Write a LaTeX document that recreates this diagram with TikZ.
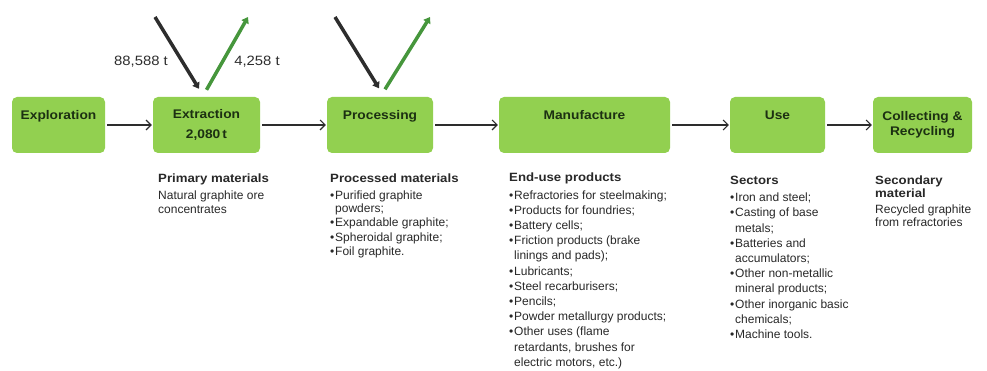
\documentclass[tikz,border=0pt]{standalone}
\usepackage{fontspec}
\setmainfont{Liberation Sans}
\newfontfamily\stagefont{Liberation Sans}[FakeStretch=1.1]
\usetikzlibrary{arrows.meta}

\definecolor{stagefill}{RGB}{146,208,80}
\definecolor{stagetext}{RGB}{28,48,18}
\definecolor{flowgreen}{RGB}{70,150,60}
\definecolor{flowdark}{RGB}{45,45,45}
\definecolor{bodytext}{RGB}{40,40,40}

\newcommand{\bul}{\makebox[5pt][l]{\textbullet}}
\newcommand{\cont}{\hspace*{5pt}}
\newcommand{\headfont}{\stagefont\fontsize{12}{15.2}\selectfont\bfseries}

\begin{document}
\begin{tikzpicture}[x=1pt,y=-1pt]
    \useasboundingbox (0,0) rectangle (987,371);

    % Stages of the chain
    \begin{scope}[every node/.style={rectangle,rounded corners=5pt,fill=stagefill,
                  text=stagetext,font=\stagefont\fontsize{12.5}{20}\selectfont\bfseries,
                  align=center,minimum height=56pt,inner sep=0pt}]
        \node[minimum width=93pt]  (explo) at (58.5,125)  {Exploration\\\mbox{}};
        \node[minimum width=107pt] (extr)  at (206.5,125) {Extraction\\2,080\,t};
        \node[minimum width=106pt] (proc)  at (380,125)   {Processing\\\mbox{}};
        \node[minimum width=171pt] (manu)  at (584.5,125) {Manufacture\\\mbox{}};
        \node[minimum width=95pt]  (use)   at (777.5,125) {Use\\\mbox{}};
        \node[minimum width=99pt]  (recyc) at (922.5,125) {Collecting \&\\[-5pt]Recycling};
    \end{scope}

    % Flow between the stages
    \begin{scope}[>={Straight Barb[length=5pt,width=10pt]},
                  every edge/.style={draw=flowdark,line width=1.1pt,shorten <=2pt,shorten >=1pt}]
        \path [->] (explo) edge (extr);
        \path [->] (extr)  edge (proc);
        \path [->] (proc)  edge (manu);
        \path [->] (manu)  edge (use);
        \path [->] (use)   edge (recyc);
    \end{scope}

    % Imports and exports
    \coordinate (exin)  at (155,17);
    \coordinate (exout) at (248,17);
    \coordinate (prin)  at (335,17);
    \coordinate (prout) at (430,17);
    \begin{scope}[>={Triangle[length=6pt,width=8pt]},
                  every edge/.style={line width=3.5pt}]
        \path [->] (exin) edge [draw=flowdark] ([xshift=-7.5pt,yshift=8pt]extr.north);
        \path [->] ([yshift=7pt]extr.north) edge [draw=flowgreen] (exout);
        \path [->] (prin) edge [draw=flowdark] ([xshift=-1pt,yshift=8.5pt]proc.north);
        \path [->] ([xshift=5pt,yshift=7.5pt]proc.north) edge [draw=flowgreen] (prout);
    \end{scope}
    \begin{scope}[every node/.style={text=flowdark,font=\stagefont\fontsize{13.5}{15}\selectfont}]
        \node (inlabel)  at (141,62) {88,588 t};
        \node (outlabel) at (257,62) {4,258 t};
    \end{scope}

    % Notes under the stages
    \begin{scope}[every node/.style={anchor=north west,align=left,inner sep=0pt,text=bodytext,
                  font=\fontsize{12}{15.2}\selectfont}]
        \node (extrnote) at (158,174) {{\headfont Primary materials}\\[1pt]
            Natural graphite ore\\[-1pt]concentrates};
        \node (procnote) at (330,174) {{\headfont Processed materials}\\[1pt]
            \bul Purified graphite\\[-1.5pt]\cont powders;\\[-1pt]
            \bul Expandable graphite;\\[-1pt]
            \bul Spheroidal graphite;\\[-1pt]
            \bul Foil graphite.};
        \node (manunote) at (509,173) {{\headfont End-use products}\\[2pt]
            \bul Refractories for steelmaking;\\
            \bul Products for foundries;\\
            \bul Battery cells;\\
            \bul Friction products (brake\\\cont linings and pads);\\
            \bul Lubricants;\\
            \bul Steel recarburisers;\\
            \bul Pencils;\\
            \bul Powder metallurgy products;\\
            \bul Other uses (flame\\\cont retardants, brushes for\\\cont electric motors, etc.)};
        \node (usenote) at (730,176) {{\headfont Sectors}\\[2pt]
            \bul Iron and steel;\\
            \bul Casting of base\\\cont metals;\\
            \bul Batteries and\\\cont accumulators;\\
            \bul Other non-metallic\\\cont mineral products;\\
            \bul Other inorganic basic\\\cont chemicals;\\
            \bul Machine tools.};
        \node (recycnote) at (875,176) {{\headfont Secondary}\\[-2.5pt]{\headfont material}\\[1pt]
            Recycled graphite\\[-2.5pt]from refractories};
    \end{scope}
\end{tikzpicture}
\end{document}
